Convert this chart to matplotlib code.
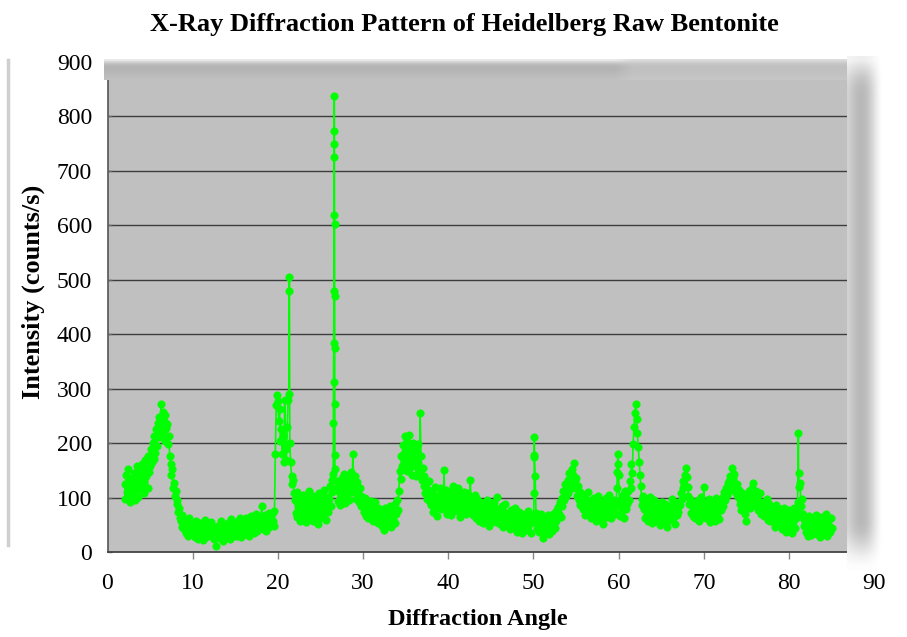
import numpy as np
import matplotlib
matplotlib.use("Agg")
import matplotlib.pyplot as plt
from matplotlib.lines import Line2D

# ---------------- data ----------------
angle_start = 2.0
angle_step = 0.1

intensity_02_09 = [
    125, 98, 142, 110, 153, 118, 92, 135, 104, 128,
    112, 146, 95, 131, 120, 158, 101, 137, 116, 149,
    124, 162, 131, 108, 170, 139, 152, 118, 176, 147,
    158, 189, 166, 201, 172, 214, 183, 226, 195, 238,
    212, 249, 231, 272, 219, 258, 240, 205, 251, 228,
    236, 198, 214, 176, 162, 141, 152, 118, 127, 104,
    112, 88, 96, 74, 81, 63, 58, 69, 47, 55,
    42, 58, 36, 51, 29, 47, 62, 33, 45, 38]
intensity_10_19 = [
    51, 34, 46, 28, 57, 39, 24, 48, 36, 53,
    31, 45, 22, 49, 37, 60, 27, 43, 35, 52,
    40, 29, 55, 33, 46, 24, 38, 11, 44, 30,
    49, 26, 41, 58, 32, 45, 21, 50, 37, 43,
    28, 54, 39, 47, 25, 61, 35, 44, 30, 52,
    38, 46, 29, 57, 41, 33, 62, 27, 48, 40,
    55, 34, 49, 63, 38, 52, 30, 58, 44, 67,
    41, 59, 36, 53, 70, 45, 39, 61, 48, 55,
    64, 85, 43, 57, 50, 68, 39, 60, 53, 72,
    46, 62, 55, 70, 58, 49, 75, 180, 270, 288]
intensity_20_29 = [
    278, 240, 262, 205, 226, 180, 214, 165, 280, 190,
    170, 230, 280, 290, 200, 165, 140, 125, 132, 108,
    96, 72, 110, 64, 88, 101, 58, 92, 77, 105,
    68, 94, 81, 55, 99, 73, 112, 62, 86, 70,
    91, 58, 103, 76, 66, 97, 84, 52, 108, 79,
    63, 95, 87, 71, 115, 82, 60, 102, 90, 74,
    98, 121, 85, 110, 132, 143, 620, 152, 118, 131,
    112, 94, 128, 87, 119, 136, 98, 108, 143, 91,
    125, 102, 139, 116, 95, 131, 148, 110, 181, 127,
    119, 140, 98, 128, 106, 92, 117, 84, 103, 95]
intensity_30_39 = [
    88, 74, 99, 67, 91, 80, 62, 86, 72, 94,
    65, 83, 58, 77, 92, 61, 70, 54, 81, 68,
    59, 76, 48, 70, 63, 41, 82, 55, 67, 50,
    72, 57, 84, 46, 69, 61, 78, 53, 88, 70,
    96, 78, 112, 150, 135, 176, 158, 197, 182, 214,
    168, 205, 150, 188, 216, 161, 194, 142, 177, 201,
    158, 186, 140, 172, 163, 198, 149, 255, 176, 132,
    154, 121, 139, 108, 126, 97, 115, 130, 92, 104,
    86, 112, 74, 98, 120, 81, 93, 67, 105, 88,
    118, 79, 96, 107, 84, 151, 92, 115, 71, 101]
intensity_40_49 = [
    83, 110, 94, 69, 102, 121, 78, 95, 87, 113,
    76, 99, 118, 85, 64, 104, 91, 72, 110, 82,
    97, 70, 108, 86, 79, 101, 133, 75, 92, 68,
    89, 105, 63, 84, 97, 71, 58, 92, 80, 66,
    78, 54, 91, 69, 83, 60, 95, 72, 49, 81,
    67, 86, 58, 74, 92, 63, 55, 102, 70, 61,
    79, 52, 68, 85, 47, 73, 60, 88, 56, 66,
    50, 71, 63, 42, 77, 55, 68, 46, 82, 59,
    64, 38, 57, 73, 49, 61, 35, 70, 53, 44,
    67, 48, 58, 40, 75, 52, 63, 36, 56, 69]
intensity_50_59 = [
    58, 212, 139, 72, 45, 66, 38, 59, 49, 71,
    42, 26, 55, 63, 37, 51, 45, 68, 33, 57,
    48, 61, 39, 70, 52, 44, 76, 58, 65, 83,
    71, 92, 64, 100, 85, 112, 96, 125, 104, 118,
    132, 108, 146, 121, 138, 153, 117, 142, 163, 128,
    136, 104, 121, 95, 113, 87, 108, 99, 79, 102,
    90, 68, 97, 82, 110, 74, 88, 63, 95, 80,
    72, 99, 85, 58, 91, 77, 104, 69, 86, 60,
    93, 76, 52, 88, 81, 99, 65, 83, 71, 105,
    78, 62, 94, 86, 73, 95, 70, 88, 118, 180]
intensity_60_69 = [
    141, 84, 67, 98, 76, 105, 62, 93, 113, 80,
    88, 112, 96, 130, 118, 162, 145, 198, 230, 255,
    272, 244, 218, 193, 165, 142, 121, 98, 86, 104,
    79, 62, 95, 71, 58, 88, 66, 102, 74, 53,
    84, 69, 96, 57, 78, 90, 61, 73, 86, 50,
    72, 93, 64, 81, 55, 88, 70, 46, 79, 67,
    85, 59, 76, 98, 63, 71, 52, 90, 68, 80,
    74, 92, 86, 109, 97, 118, 130, 123, 142, 155,
    138, 120, 104, 88, 97, 72, 84, 66, 91, 78,
    63, 86, 71, 95, 58, 80, 74, 102, 67, 85]
intensity_70_79 = [
    120, 76, 90, 62, 84, 71, 97, 55, 79, 88,
    66, 92, 73, 58, 100, 81, 69, 87, 61, 94,
    78, 89, 102, 84, 110, 96, 118, 105, 127, 112,
    131, 140, 122, 155, 136, 127, 144, 118, 109, 126,
    102, 115, 88, 97, 78, 108, 92, 84, 70, 58,
    86, 104, 93, 112, 81, 98, 118, 90, 127, 106,
    95, 112, 84, 101, 77, 93, 108, 70, 87, 79,
    92, 66, 84, 71, 98, 60, 78, 89, 57, 74,
    68, 82, 55, 73, 47, 86, 62, 70, 51, 79,
    58, 75, 43, 66, 81, 52, 69, 38, 72, 60]
intensity_80_85 = [
    77, 49, 64, 35, 70, 56, 81, 45, 62, 74,
    92, 218, 120, 127, 84, 98, 70, 62, 48, 55,
    37, 58, 29, 66, 44, 52, 31, 61, 47, 39,
    55, 42, 68, 33, 50, 60, 27, 48, 64, 41,
    53, 36, 59, 45, 70, 30, 57, 49, 38, 62,
    44]

# extra points recorded on the sharp reflections
spike_angles = [21.33, 21.35,
                26.52, 26.54, 26.56, 26.58, 26.61, 26.62, 26.63, 26.64,
                26.65, 26.66, 26.67, 26.68, 26.69,
                50.08, 50.09, 50.11,
                59.85, 59.95,
                81.12]
spike_values = [480, 505,
                237, 312, 385, 479, 749, 838, 774, 725,
                602, 471, 374, 273, 178,
                108, 175, 178,
                147, 162,
                146]

x_ticks = [0, 10, 20, 30, 40, 50, 60, 70, 80, 90]
y_ticks = [0, 100, 200, 300, 400, 500, 600, 700, 800, 900]

title = "X-Ray Diffraction Pattern of Heidelberg Raw Bentonite"
x_label = "Diffraction Angle"
y_label = "Intensity (counts/s)"

# ---------------- assemble series ----------------
intensity = np.concatenate([intensity_02_09, intensity_10_19, intensity_20_29,
                            intensity_30_39, intensity_40_49, intensity_50_59,
                            intensity_60_69, intensity_70_79, intensity_80_85]).astype(float)
angles = angle_start + angle_step * np.arange(len(intensity))
all_x = np.concatenate([angles, spike_angles])
all_y = np.concatenate([intensity, spike_values])
order = np.argsort(all_x, kind="stable")
all_x = all_x[order]
all_y = all_y[order]

# ---------------- figure ----------------
W, H = 907, 637
fig = plt.figure(figsize=(W / 100, H / 100), dpi=100)
fig.patch.set_facecolor("white")
serif = "Liberation Serif"

x0_px, x90_px = 107.5, 874.2
y0_px, y900_px = 552.2, 62.0
plot_right_px = 847.0
ax = fig.add_axes([x0_px / W, (H - y0_px) / H, (x90_px - x0_px) / W, (y0_px - y900_px) / H])
ax.set_xlim(0, 90)
ax.set_ylim(0, 900)
ax.patch.set_visible(False)
xmax_plot = (plot_right_px - x0_px) / (x90_px - x0_px) * 90

ax.axvspan(0, xmax_plot, color="#c0c0c0", zorder=0)
ax.hlines(y_ticks[1:-1], 0, xmax_plot, colors="#3c3c3c", linewidth=1.0, zorder=1)

ax.plot(all_x, all_y, color="#00ff00", linewidth=1.2, marker="o", markersize=5.3,
        markerfacecolor="#00ff00", markeredgecolor="#00ff00", markeredgewidth=0.5, zorder=3)

for side in ("top", "right"):
    ax.spines[side].set_visible(False)
ax.spines["left"].set_color("#555555")
ax.spines["left"].set_linewidth(1.2)
ax.spines["bottom"].set_color("#444444")
ax.spines["bottom"].set_linewidth(1.3)
ax.spines["bottom"].set_bounds(0, xmax_plot)

ax.set_xticks(x_ticks)
ax.set_xticklabels([str(v) for v in x_ticks])
ax.set_yticks(y_ticks)
ax.set_yticklabels([str(v) for v in y_ticks])
ax.tick_params(axis="x", direction="out", length=5, width=1.0, color="#888888",
               pad=10, labelsize=17)
ax.tick_params(axis="y", direction="in", length=3, width=1.0, color="#666666",
               pad=11, labelsize=17)
ax.xaxis.get_major_ticks()[-1].tick1line.set_visible(False)
ax.xaxis.get_major_ticks()[0].tick1line.set_visible(False)
for lab in ax.get_xticklabels() + ax.get_yticklabels():
    lab.set_fontfamily(serif)

fig.text(464 / W, 1 - 24 / H, title, ha="center", va="center",
         fontsize=19, fontweight="bold", family=serif)
fig.text(478 / W, 1 - 620 / H, x_label, ha="center", va="center",
         fontsize=17.5, fontweight="bold", family=serif)
fig.text(33 / W, 1 - 292 / H, y_label, ha="center", va="center", rotation=90,
         fontsize=19, fontweight="bold", family=serif)

# ---------------- frame shadows ----------------
fig.add_artist(Line2D([8 / W, 8 / W], [1 - 545 / H, 1 - 60 / H], color="#cfcfcf", linewidth=2.5))

# right side soft shadow bar
sh = fig.add_axes([847 / W, 1 - 570 / H, 38 / W, (570 - 56) / H])
sh.axis("off")
prof_x = np.array([0.82, 0.78, 0.75, 0.73, 0.72, 0.73, 0.76, 0.81, 0.87, 0.93, 0.98, 1.0])
weight_y = np.ones(60)
weight_y[:4] = [0.25, 0.55, 0.8, 0.95]
weight_y[-5:] = [0.9, 0.7, 0.45, 0.2, 0.05]
grad = 1 - (1 - prof_x[None, :]) * weight_y[:, None]
sh.imshow(grad, cmap="gray", vmin=0, vmax=1, aspect="auto", interpolation="bilinear")

# top shadow over upper plot border
tp = fig.add_axes([104 / W, 1 - 80 / H, (847 - 104) / W, 21 / H])
tp.axis("off")
prof_t = np.array([0.92, 0.82, 0.74, 0.71, 0.70, 0.71, 0.72, 0.73, 0.74, 0.75])
top_grad = np.repeat(prof_t[:, None], 40, axis=1)
top_grad[:, 28:] = top_grad[:, 28:] * 0.5 + 0.5 * 0.80
tp.imshow(top_grad, cmap="gray", vmin=0, vmax=1, aspect="auto", interpolation="bilinear")

fig.savefig("out.png", dpi=100, facecolor="white")
